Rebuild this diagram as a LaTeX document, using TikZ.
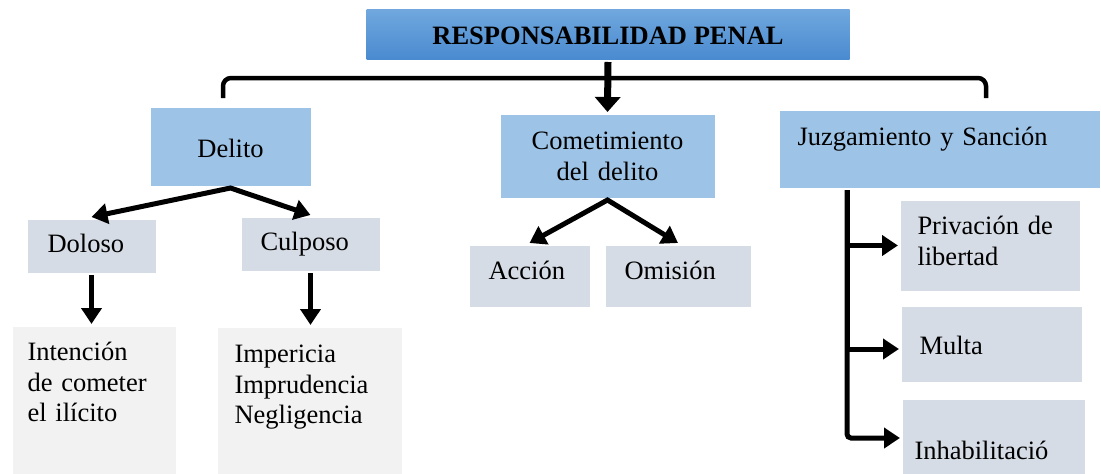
\documentclass[tikz,border=0pt]{standalone}
\usepackage{fontspec}
\setmainfont{Liberation Serif}
\usetikzlibrary{arrows.meta}

\definecolor{respTop}{RGB}{112,168,222}
\definecolor{respBottom}{RGB}{74,138,208}
\definecolor{levelBlue}{RGB}{157,195,230}
\definecolor{levelGrey}{RGB}{214,220,229}
\definecolor{leafGrey}{RGB}{242,242,242}

\begin{document}
\begin{tikzpicture}[x=1pt,y=-1pt,>={Triangle[width=20pt,length=16pt]},
                    line width=5pt,
                    basebox/.style={rectangle,anchor=north west,inner sep=0pt,
                                    font=\fontsize{26.5}{30.5}\selectfont},
                    rootbox/.style={basebox,top color=respTop,bottom color=respBottom,
                                    font=\fontsize{26.5}{30.5}\selectfont\bfseries},
                    topic/.style={basebox,fill=levelBlue},
                    kind/.style={basebox,fill=levelGrey},
                    leaf/.style={basebox,fill=leafGrey},
                    boxsize/.style n args={4}{minimum width=#1pt,minimum height=#2pt,
                                              text height=#3pt,text depth=#4pt},
                    textpad/.style n args={2}{inner xsep=#1pt,text width=#2pt,align=left}]
  \useasboundingbox (0,0) rectangle (1101,474);

  \node[rootbox,boxsize={483}{50}{35}{15}] (resp) at (364,7) {RESPONSABILIDAD PENAL};

  \node[topic,boxsize={160}{78}{50}{28}] (delito) at (148,105) {Delito};
  \node[topic,boxsize={214}{83}{35}{48},text width=214pt,align=center] (comet) at (498,112) {Cometimiento\\del delito};
  \node[topic,boxsize={320}{77}{35}{42},textpad={18}{284}] (juzga) at (777,108) {Juzgamiento y Sanción};

  \node[kind,boxsize={128}{53}{33}{20},textpad={20}{88}] (doloso) at (25,217) {Doloso};
  \node[kind,boxsize={138}{53}{33}{20},textpad={19}{100}] (culposo) at (239,215) {Culposo};
  \node[leaf,boxsize={163}{148}{34}{114},textpad={15}{133}] (intencion) at (10,324) {Intención\\de cometer\\el ilícito};
  \node[leaf,boxsize={184}{148}{35}{113},textpad={17}{150}] (imprudencia) at (215,325) {Impericia\\Imprudencia\\Negligencia};

  \node[kind,boxsize={120}{61}{34}{27},textpad={19}{82}] (accion) at (467,243) {Acción};
  \node[kind,boxsize={145}{61}{34}{27},textpad={19}{107}] (omision) at (603,243) {Omisión};

  \node[kind,boxsize={179}{90}{34}{56},textpad={17}{145}] (privacion) at (898,198) {Privación de\\libertad};
  \node[kind,boxsize={180}{75}{48}{27},textpad={18}{144}] (multa) at (899,304) {Multa};
  \node[kind,boxsize={182}{77}{60}{17},textpad={12}{158}] (inhab) at (900,397) {Inhabilitació};

  \coordinate (braceL) at (223,98);
  \coordinate (braceR) at (986,98);
  \coordinate (spine) at ([xshift=70pt]juzga.south west);

  \draw[line width=4.5pt,rounded corners=8pt] (braceL) -- ++(0,-20) -| (braceR);
  \draw[->,line width=7pt,>={Triangle[width=25pt,length=15pt]}] (resp.south) -- (comet.north);

  \draw[<->] (doloso.north) -- (delito.south) -- (culposo.north);
  \draw[->] (doloso.south) -- (doloso.south |- intencion.north);
  \draw[->] (culposo.south) -- (culposo.south |- imprudencia.north);
  \draw[<->] (accion.north) -- (comet.south) -- (omision.north);

  \draw[->] (spine) |- (privacion.west);
  \draw[->] (spine) |- ([yshift=-5pt]multa.west);
  \draw[->,rounded corners=4pt] (spine) |- (inhab.west);
\end{tikzpicture}
\end{document}
